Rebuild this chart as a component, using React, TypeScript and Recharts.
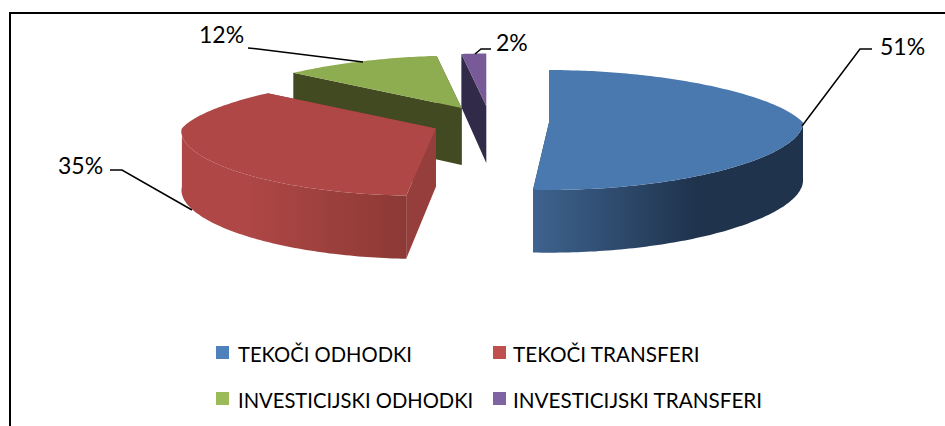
import { Legend, Pie, PieChart } from "recharts";

const categories = ["TEKOČI ODHODKI", "TEKOČI TRANSFERI", "INVESTICIJSKI ODHODKI", "INVESTICIJSKI TRANSFERI"];
const shares = [51, 35, 12, 2];

const legendColors = ["#4f81bd", "#c0504d", "#9bbb59", "#8064a2"];
const topColors = ["#4a79b0", "#ae4745", "#8eac50", "#775a97"];
const faceColors = ["#1f334d", "#963e3b", "#414a20", "#322a49"];
const wallFills = ["url(#wall-blue)", "url(#wall-red)", "none", "none"];

// label text position and leader line, same order as categories
const labelSpots = [
  { x: 880, y: 49, line: "802,126 860,49 872,49" },
  { x: 58, y: 168, line: "192,210 122,170 110,170" },
  { x: 199, y: 37, line: "363,62 258,49 248,48" },
  { x: 496, y: 45, line: "475,54 481,49 491,49" },
];

// painted back to front, so the pie runs counter-clockwise over the reversed list
const rows = categories.map((name, i) => ({ name, value: shares[i], idx: i })).reverse();

const FONT = "Lato, Carlito, sans-serif";
const EXPLODE_X = 59;
const EXPLODE_Y = 16;
const rad = (d: number) => (d * Math.PI) / 180;
const depthAt = (y: number) => 57 + 0.07 * (y - 108);
const pts = (list: number[][]) => list.map((p) => `${p[0].toFixed(1)},${p[1].toFixed(1)}`).join(" ");

function Slice3D(props: any) {
  const { cx, cy, outerRadius: r, startAngle, endAngle, payload } = props;
  const idx = payload.idx;
  const mid = rad((startAngle + endAngle) / 2);
  const ax = cx + EXPLODE_X * Math.cos(mid);
  const ay = cy - EXPLODE_Y * Math.sin(mid);
  const lean = Math.min(Math.cos(mid), 0) * 15;

  // flattened circle with a little perspective: back edge narrower, left slices lean out at the front
  const project = (deg: number) => {
    const c = Math.cos(rad(deg));
    const s = Math.sin(rad(deg));
    return [ax + r * c * (1 - 0.22 * Math.max(s, 0)) + lean * Math.max(-s, 0), ay - s * (r * 0.236 - 7.5 * s)];
  };
  const drop = (p: number[]) => [p[0], p[1] + depthAt(p[1])];

  const degs: number[] = [];
  for (let d = startAngle; d < endAngle; d += 1) degs.push(d);
  degs.push(endAngle);
  const arc = degs.map(project);

  const apex = [ax, ay];
  const corners = [project(startAngle), project(endAngle)].sort((a, b) => a[1] - b[1]);

  // outer wall only on the front half, from the exact left or right extreme of the ellipse
  const frontDegs = [...degs.filter((d) => d > 180 && d < 360), ...[180, 360].filter((d) => d >= startAngle && d <= endAngle)].sort((a, b) => a - b);
  const front = frontDegs.map(project);

  return (
    <g>
      {corners.map((p, i) => (
        <polygon key={i} points={pts([p, apex, drop(apex), drop(p)])} fill={faceColors[idx]} />
      ))}
      {front.length > 1 && wallFills[idx] !== "none" && (
        <polygon points={pts([...front, ...front.map(drop).reverse()])} fill={wallFills[idx]} />
      )}
      <polygon points={pts([apex, ...arc])} fill={topColors[idx]} />
    </g>
  );
}

function SliceLabel(props: any) {
  const idx = props.payload.idx;
  const spot = labelSpots[idx];
  return (
    <g>
      <polyline points={spot.line} fill="none" stroke="#000" strokeWidth={1.5} />
      <text x={spot.x} y={spot.y} fontFamily={FONT} fontSize={23} fill="#000" dominantBaseline="middle">
        {shares[idx]}%
      </text>
    </g>
  );
}

function LegendBlock() {
  const cellX = [216, 493];
  const cellY = [346, 392];
  return (
    <div style={{ position: "relative", width: 945, height: 426, fontFamily: FONT, color: "#000" }}>
      {categories.map((name, i) => (
        <div key={name} style={{ position: "absolute", left: cellX[i % 2], top: cellY[Math.floor(i / 2)], whiteSpace: "nowrap" }}>
          <span style={{ position: "absolute", left: 0, top: 0, width: 13, height: 13, background: legendColors[i] }} />
          <span style={{ position: "absolute", left: i % 2 ? 20 : 22, top: -5, lineHeight: "26px", fontSize: i % 2 ? 20.7 : 20.2 }}>{name}</span>
        </div>
      ))}
    </div>
  );
}

export default function App() {
  return (
    <div style={{ position: "absolute", left: 0, top: 0, width: 945, height: 426, background: "#fff", overflow: "hidden" }}>
      <div style={{ position: "absolute", left: 9, top: 12, width: 936, height: 414, borderTop: "2px solid #000", borderLeft: "2px solid #000" }} />
      <PieChart width={945} height={426} margin={{ top: 0, right: 0, bottom: 0, left: 0 }}>
        <defs>
          <linearGradient id="wall-blue" x1="0" y1="0" x2="1" y2="0">
            <stop offset="0%" stopColor="#3e638f" />
            <stop offset="60%" stopColor="#1f334d" />
            <stop offset="100%" stopColor="#1f334d" />
          </linearGradient>
          <linearGradient id="wall-red" x1="0" y1="0" x2="1" y2="0">
            <stop offset="0%" stopColor="#ae4745" />
            <stop offset="30%" stopColor="#ae4745" />
            <stop offset="100%" stopColor="#8c3935" />
          </linearGradient>
        </defs>
        <Pie
          data={rows}
          dataKey="value"
          nameKey="name"
          cx={490}
          cy={122}
          outerRadius={254}
          startAngle={90}
          endAngle={450}
          paddingAngle={0}
          stroke="none"
          shape={Slice3D}
          label={SliceLabel}
          labelLine={false}
          isAnimationActive={false}
        />
        <Legend content={LegendBlock} wrapperStyle={{ left: 0, top: 0, bottom: "auto", width: 945, height: 426 }} />
      </PieChart>
    </div>
  );
}
